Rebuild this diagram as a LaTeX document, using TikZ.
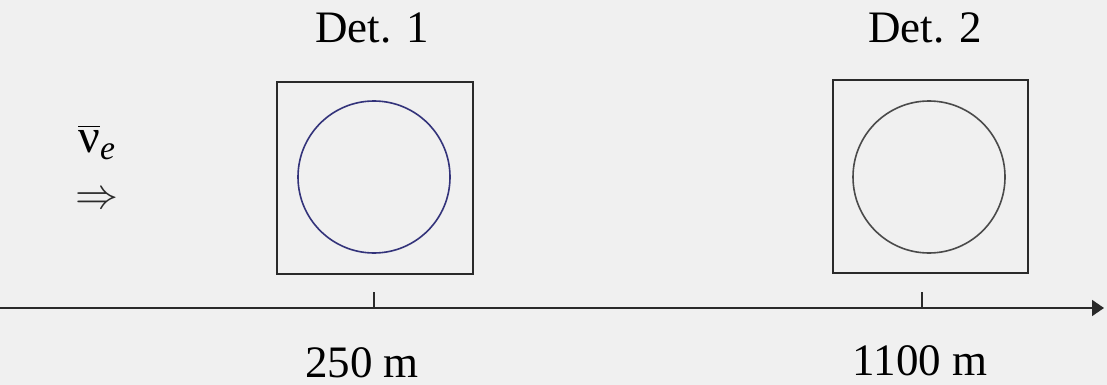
\documentclass[tikz,border=0pt]{standalone}
\usepackage{amsmath}
\usepackage{graphicx}
\usepackage{fontspec}
\setmainfont{Liberation Serif}
\usetikzlibrary{arrows.meta}
\definecolor{bgc}{HTML}{F0F0F0}
\definecolor{boxc}{HTML}{2A2A2A}
\definecolor{circa}{HTML}{33337A}
\definecolor{circb}{HTML}{4A4A4A}
\tikzset{
  lbl/.style={inner sep=0pt, anchor=base, font=\fontsize{45}{54}\selectfont},
  detbox/.style={draw=boxc, line width=2.6pt, minimum width=196pt, minimum height=192pt, inner sep=0pt},
  detcirc/.style={draw, circle, line width=1.6pt, minimum size=152pt, inner sep=0pt},
  tickline/.style={line width=1.8pt, draw=boxc},
}
\begin{document}
\begin{tikzpicture}[x=1pt,y=-1pt]
\fill[bgc] (0,0) rectangle (1107,385);
\useasboundingbox (0,0) rectangle (1107,385);
\node[lbl] (d1) at (372,43) {Det. 1};
\node[lbl] (d2) at (925,43) {Det. 2};
\node[lbl] (l1) at (362,377) {250 m};
\node[lbl] (l2) at (920,375) {1100 m};
\node[detbox] (b1) at (375,178) {};
\node[detbox, minimum width=195pt, minimum height=193pt] (b2) at (930.5,176.5) {};
\node[detcirc, draw=circa] (c1) at (374,177) {};
\node[detcirc, draw=circb] (c2) at (929,177) {};
\node[inner sep=0pt, anchor=base, font=\fontsize{48}{58}\selectfont] (nu) at (97,152) {$\overline{\text{ν}}_{\text{\itshape e}}$};
\node[inner sep=0pt, text=boxc] (arr) at (97,201) {\scalebox{4.3}{$\Rightarrow$}};
\coordinate (a0) at (0,308);
\coordinate (a1) at (1104,308);
\draw[line width=1.8pt, draw=boxc, -{Triangle[length=12pt,width=16pt]}] (a0) -- (a1);
\coordinate (t1) at (374,308);
\coordinate (t2) at (922,308);
\draw[tickline] (t1) -- ++(0,-16);
\draw[tickline] (t2) -- ++(0,-16);
\end{tikzpicture}
\end{document}
